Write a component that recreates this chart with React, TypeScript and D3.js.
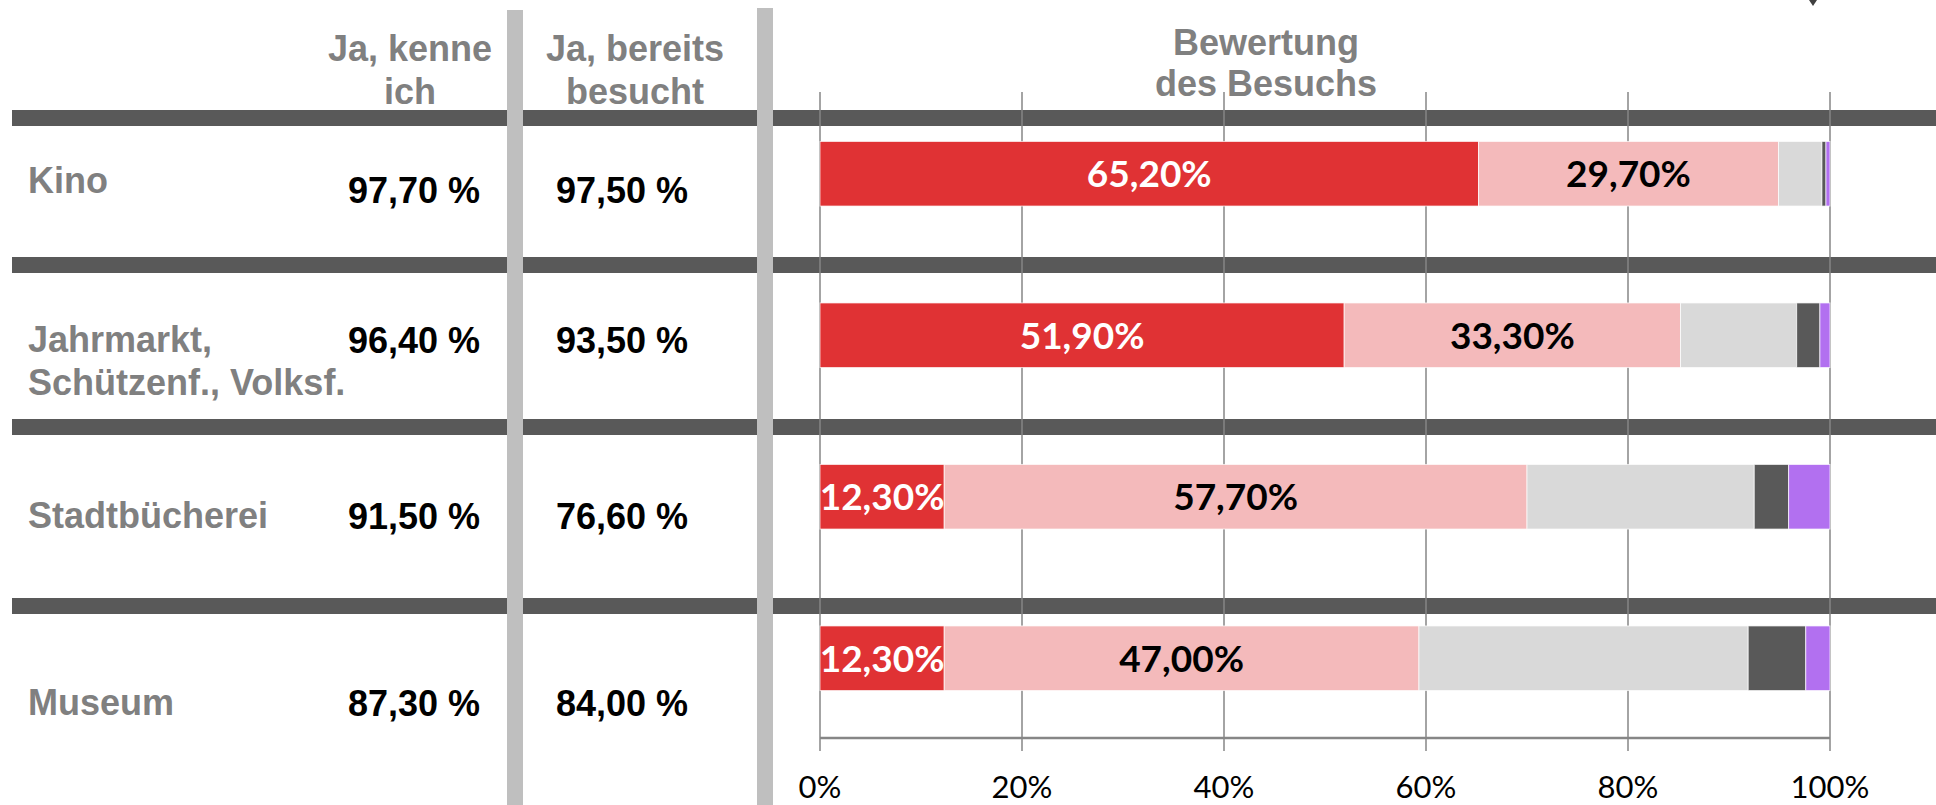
import { useRef, useEffect } from 'react';
import * as d3 from 'd3';

// --- data ---
const categories = ['Kino', 'Jahrmarkt', 'Stadtbücherei', 'Museum'];
const categoryLines = [['Kino'], ['Jahrmarkt,', 'Schützenf., Volksf.'], ['Stadtbücherei'], ['Museum']];
const kenneIch = [97.7, 96.4, 91.5, 87.3];
const bereitsBesucht = [97.5, 93.5, 76.6, 84.0];

const seriesKeys = ['sehrGut', 'gut', 'mittel', 'schlecht', 'keineAngabe'];
const sehrGut = [65.2, 51.9, 12.3, 12.3];
const gut = [29.7, 33.3, 57.7, 47.0];
const mittel = [4.3, 11.5, 22.5, 32.6];
const schlecht = [0.4, 2.3, 3.4, 5.7];
const keineAngabe = [0.4, 1.0, 4.1, 2.4];
const seriesColors = ['#E03234', '#F4BABB', '#D9D9D9', '#595959', '#B270F0'];
const labelColors = ['#ffffff', '#000000'];

const xTicks = [0, 20, 40, 60, 80, 100];
const headerKenne = ['Ja, kenne', 'ich'];
const headerBesucht = ['Ja, bereits', 'besucht'];
const headerBewertung = ['Bewertung', 'des Besuchs'];

// --- table layout ---
const W = 1936;
const H = 805;
const SEP_Y = [110, 257, 419, 598];
const LABEL_Y = [193, 352, 528, 715];
const VALUE_Y = [203, 353, 529, 716];

const ARIAL = '"Liberation Sans", Arial, sans-serif';
const CAL = 'Lato, "Open Sans", sans-serif';

const fmt = (v: number) => v.toFixed(2).replace('.', ',');

export default function App() {
    const svgRef = useRef<SVGSVGElement>(null);

    useEffect(() => {
        if (!svgRef.current) return;
        const svg = d3.select(svgRef.current);
        svg.selectAll('*').remove();

        const x = d3.scaleLinear().domain([0, 100]).range([820, 1830]);
        const y = d3.scaleBand<string>().domain(categories).range([93, 739])
            .paddingInner(0.6).paddingOuter(0.3);

        const rows = categories.map((c, i) => ({
            cat: c,
            sehrGut: sehrGut[i], gut: gut[i], mittel: mittel[i],
            schlecht: schlecht[i], keineAngabe: keineAngabe[i],
        }));
        const stacked = d3.stack<any>().keys(seriesKeys)(rows);

        // row separators
        svg.append('g').selectAll('rect')
            .data(SEP_Y)
            .enter()
            .append('rect')
            .attr('x', 12).attr('y', d => d)
            .attr('width', W - 12).attr('height', 16)
            .attr('fill', '#595959');

        // grid lines
        const grid = svg.append('g');
        grid.selectAll('line')
            .data(xTicks)
            .enter()
            .append('line')
            .attr('x1', d => x(d)).attr('x2', d => x(d))
            .attr('y1', 92).attr('y2', 751)
            .attr('stroke', '#868686')
            .attr('stroke-width', 1.5);
        grid.append('line')
            .attr('x1', x(0)).attr('x2', x(100))
            .attr('y1', 738).attr('y2', 738)
            .attr('stroke', '#868686')
            .attr('stroke-width', 2.5);
        grid.selectAll('text')
            .data(xTicks)
            .enter()
            .append('text')
            .attr('x', d => x(d)).attr('y', 798)
            .attr('text-anchor', 'middle')
            .style('font-family', CAL)
            .style('font-size', '31px')
            .attr('fill', '#000')
            .text(d => `${d}%`);

        // stacked bars
        const layers = svg.append('g').selectAll('g')
            .data(stacked)
            .enter()
            .append('g')
            .attr('fill', (_, i) => seriesColors[i]);
        layers.selectAll('rect')
            .data(d => d)
            .enter()
            .append('rect')
            .attr('x', d => x(d[0]))
            .attr('width', d => x(d[1]) - x(d[0]))
            .attr('y', d => y(d.data.cat) as number)
            .attr('height', y.bandwidth())
            .attr('stroke', 'rgba(255,255,255,0.7)')
            .attr('stroke-width', 1);

        // segment labels (first two series only)
        stacked.slice(0, 2).forEach((layer, li) => {
            svg.append('g').selectAll('text')
                .data(layer)
                .enter()
                .append('text')
                .attr('x', d => (x(d[0]) + x(d[1])) / 2)
                .attr('y', d => (y(d.data.cat) as number) + y.bandwidth() / 2)
                .attr('dy', '0.36em')
                .attr('text-anchor', 'middle')
                .attr('fill', labelColors[li])
                .style('font-family', CAL)
                .style('font-weight', 700)
                .style('font-size', '37px')
                .text(d => `${fmt(d[1] - d[0])}%`);
        });

        // column dividers
        svg.append('rect').attr('x', 507).attr('y', 10).attr('width', 16).attr('height', H - 10).attr('fill', '#BFBFBF');
        svg.append('rect').attr('x', 757).attr('y', 8).attr('width', 16).attr('height', H - 8).attr('fill', '#BFBFBF');

        // headers
        const header = (lines: string[], cx: number, ys: number[]) => {
            lines.forEach((t, i) => {
                svg.append('text')
                    .attr('x', cx).attr('y', ys[i])
                    .attr('text-anchor', 'middle')
                    .attr('fill', '#808080')
                    .style('font-family', ARIAL)
                    .style('font-weight', 700)
                    .style('font-size', '36px')
                    .text(t);
            });
        };
        header(headerKenne, 410, [61, 104]);
        header(headerBesucht, 635, [61, 104]);
        header(headerBewertung, 1266, [55, 96]);

        // row labels
        categoryLines.forEach((lines, i) => {
            lines.forEach((t, j) => {
                svg.append('text')
                    .attr('x', 28).attr('y', LABEL_Y[i] + j * 43)
                    .attr('fill', '#808080')
                    .style('font-family', ARIAL)
                    .style('font-weight', 700)
                    .style('font-size', '36px')
                    .text(t);
            });
        });

        // value columns
        svg.append('g').selectAll('text')
            .data(kenneIch)
            .enter()
            .append('text')
            .attr('x', 480).attr('y', (_, i) => VALUE_Y[i])
            .attr('text-anchor', 'end')
            .attr('fill', '#000')
            .style('font-family', ARIAL)
            .style('font-weight', 700)
            .style('font-size', '36px')
            .text(d => `${fmt(d)} %`);
        svg.append('g').selectAll('text')
            .data(bereitsBesucht)
            .enter()
            .append('text')
            .attr('x', 556).attr('y', (_, i) => VALUE_Y[i])
            .attr('fill', '#000')
            .style('font-family', ARIAL)
            .style('font-weight', 700)
            .style('font-size', '36px')
            .text(d => `${fmt(d)} %`);

        // small marker cut off at the top edge
        svg.append('path')
            .attr('d', 'M1809,0 L1817,0 L1813,6 Z')
            .attr('fill', '#404040');
    }, []);

    return (
        <svg
            ref={svgRef}
            width={W}
            height={H}
            style={{ position: 'absolute', left: 0, top: 0, background: '#fff' }}
        ></svg>
    );
}
